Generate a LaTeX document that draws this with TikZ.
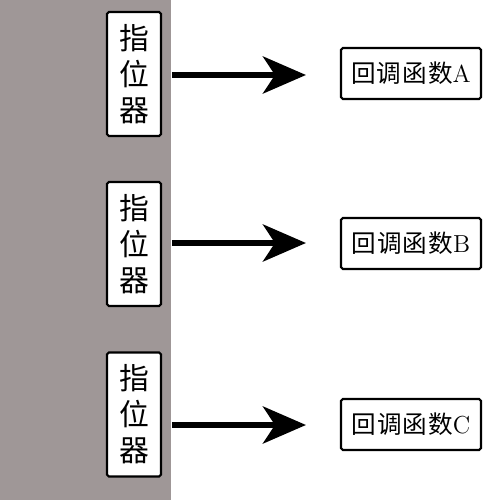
\documentclass[tikz,border=0pt]{standalone}
\usepackage{fontspec}
\newfontfamily\cjk[LetterSpace=4]{Noto Sans CJK SC}
\usetikzlibrary{arrows.meta,positioning}
\definecolor{bandgray}{RGB}{159,151,151}
\begin{document}
\begin{tikzpicture}[x=0.02cm,y=-0.02cm]
                    \tikzstyle{pointer}=[draw=black, fill=white, line width=1.2pt, rounded corners=1pt,
                        minimum width=1.08cm, minimum height=2.48cm, inner sep=0pt, align=center,
                        font=\cjk\fontsize{17}{20.5}\selectfont]
                    \tikzstyle{callback}=[draw=black, fill=white, line width=1.2pt, rounded corners=1pt,
                        minimum width=2.8cm, minimum height=1.02cm, inner sep=0pt,
                        font=\fontsize{14}{16}\selectfont]
                    \tikzstyle{call}=[line width=0.12cm, -{Stealth[length=0.86cm, width=0.74cm, inset=0.24cm]},
                        shorten <=0.2cm, shorten >=0.68cm]
                    \useasboundingbox (0,0) rectangle (500,500);
                    \fill [bandgray] (0,0) rectangle (171,500);
                    % pointers
                    \node [pointer] (p1) at (134,74) {指\\位\\器};
                    \node [pointer] (p2) at (134,244) {指\\位\\器};
                    \node [pointer] (p3) at (134,414.5) {指\\位\\器};
                    % callbacks
                    \node [callback] (cbA) at (411,73.5) {{\cjk 回调函数}A};
                    \node [callback] (cbB) at (411,243.5) {{\cjk 回调函数}B};
                    \node [callback] (cbC) at (411,424.5) {{\cjk 回调函数}C};
                    % calls
                    \draw [call] (p1.east |- 0,75) -- (cbA.west |- 0,75);
                    \draw [call] (p2.east |- 0,243) -- (cbB.west |- 0,243);
                    \draw [call] (p3.east |- 0,425) -- (cbC.west |- 0,425);
\end{tikzpicture}
\end{document}
